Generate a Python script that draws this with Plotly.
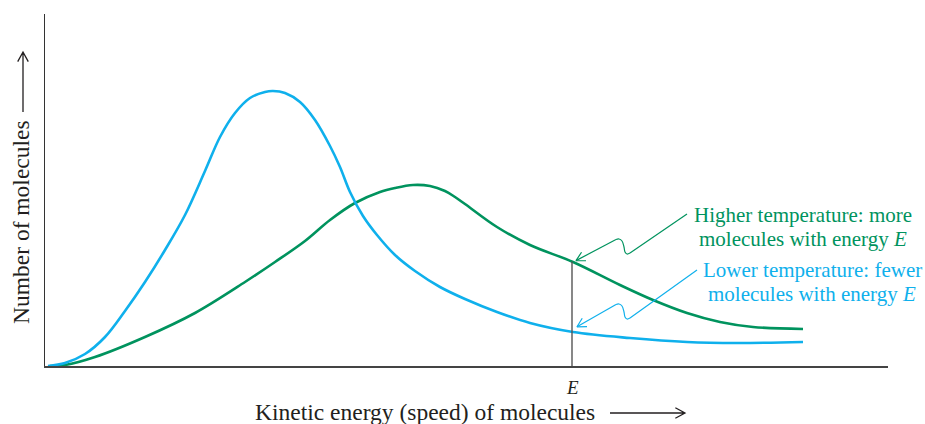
import plotly.graph_objects as go
import numpy as np

# lower temperature curve (kinetic energy, number of molecules)
energy_low = [3, 20, 40, 60, 80, 100, 120, 140, 160, 175, 190, 205, 220, 228, 240, 255,
              270, 285, 295, 305, 318, 332, 350, 370, 395, 420, 452, 485, 528, 585, 642, 692, 758]
count_low = [0, 3, 12, 29, 55, 84, 116, 151, 195, 229, 253, 268, 274, 275, 273, 264,
             246, 220, 199, 174, 150, 131, 111, 95, 79, 67, 54, 43, 34, 28, 24, 23, 24]

# higher temperature curve
energy_high = [5, 20, 50, 100, 150, 200, 230, 260, 285, 310, 335, 350, 368, 385, 400,
               410, 420, 452, 485, 528, 575, 608, 642, 675, 708, 758]
count_high = [0, 1, 9, 29, 53, 84, 104, 125, 146, 163, 174, 178, 181, 180, 175,
              169, 162, 139, 121, 104, 81, 66, 53, 44, 39, 37]

E = 527
X_MAX, Y_MAX = 843, 352

GREEN = "#00935e"
BLUE = "#0fb0ec"
INK = "#231f20"
FONT = "Liberation Serif"

high_label = ["Higher temperature: more", "molecules with energy <i>E</i>"]
low_label = ["Lower temperature: fewer", "molecules with energy <i>E</i>"]

L, T = 45, 14
R = 925 - L - X_MAX
B = 424 - T - Y_MAX


def px(x):
    return (x - L) / X_MAX


def py(y):
    return (T + Y_MAX - y) / Y_MAX


def head(tip, prev, length=10, spread=0.5):
    d = np.array(tip, float) - np.array(prev, float)
    d /= np.hypot(*d)
    pts = []
    for a in (spread, -spread):
        c, s = np.cos(a), np.sin(a)
        r = np.array([c * d[0] - s * d[1], s * d[0] + c * d[1]])
        pts.append(np.array(tip) - length * r)
    return [pts[0][0], tip[0], pts[1][0]], [pts[0][1], tip[1], pts[1][1]]


fig = go.Figure()

fig.add_trace(go.Scatter(x=energy_high, y=count_high, mode="lines", line_shape="spline",
                         line=dict(color=GREEN, width=2.6), hoverinfo="skip"))
fig.add_trace(go.Scatter(x=energy_low, y=count_low, mode="lines", line_shape="spline",
                         line=dict(color=BLUE, width=2.6), hoverinfo="skip"))

# vertical marker at energy E
y_e_high = float(np.interp(E, energy_high, count_high))
y_e_low = float(np.interp(E, energy_low, count_low))
fig.add_trace(go.Scatter(x=[E, E], y=[0, y_e_high], mode="lines",
                         line=dict(color="#555555", width=1.4), hoverinfo="skip"))

# callout arrows with a little squiggle
callouts = [
    (GREEN, (642, 152), [(585, 113), (582, 112), (580, 114), (579, 119), (577, 125), (574, 127), (571, 126.5)],
     (E + 4, y_e_high + 1)),
    (BLUE, (652, 96), [(585, 48), (582, 47), (580, 49), (579, 54), (577, 60), (574, 62), (571, 61.5)],
     (E + 5, y_e_low + 5)),
]
for color, tail, squig, tip in callouts:
    fig.add_trace(go.Scatter(x=[tail[0], squig[0][0]], y=[tail[1], squig[0][1]], mode="lines",
                             line=dict(color=color, width=1.2), hoverinfo="skip"))
    fig.add_trace(go.Scatter(x=[p[0] for p in squig], y=[p[1] for p in squig], mode="lines",
                             line_shape="spline", line=dict(color=color, width=1.2), hoverinfo="skip"))
    fig.add_trace(go.Scatter(x=[squig[-1][0], tip[0]], y=[squig[-1][1], tip[1]], mode="lines",
                             line=dict(color=color, width=1.2), hoverinfo="skip"))
    hx, hy = head(tip, squig[-1])
    fig.add_trace(go.Scatter(x=hx, y=hy, mode="lines",
                             line=dict(color=color, width=1.2), hoverinfo="skip"))

annotations = []
for i, line in enumerate(high_label):
    annotations.append(dict(x=757.5, y=151 - 24 * i, xref="x", yref="y", text=line,
                            showarrow=False, xanchor="center", yanchor="middle",
                            font=dict(family=FONT, size=21, color=GREEN)))
for i, line in enumerate(low_label):
    annotations.append(dict(x=767, y=96 - 24 * i, xref="x", yref="y", text=line,
                            showarrow=False, xanchor="center", yanchor="middle",
                            font=dict(family=FONT, size=21, color=BLUE)))

annotations.append(dict(x=E / X_MAX, y=py(387), xref="paper", yref="paper", text="<i>E</i>",
                        showarrow=False, xanchor="center", yanchor="middle",
                        font=dict(family=FONT, size=19, color=INK)))
annotations.append(dict(x=px(424.5), y=py(412), xref="paper", yref="paper",
                        text="Kinetic energy (speed) of molecules",
                        showarrow=False, xanchor="center", yanchor="middle",
                        font=dict(family=FONT, size=23.5, color=INK)))
annotations.append(dict(x=px(21), y=py(222), xref="paper", yref="paper",
                        text="Number of molecules", textangle=-90,
                        showarrow=False, xanchor="center", yanchor="middle",
                        font=dict(family=FONT, size=23.5, color=INK)))

# axis-title arrows (in pixel space, turned into paper coordinates)
shapes = []
for tail, tip in [((610, 413), (685, 413)), ((23, 112), (23, 52))]:
    hx, hy = head(tip, tail, length=11, spread=0.5)
    path = "M{},{} L{},{}".format(px(tail[0]), py(tail[1]), px(tip[0]), py(tip[1]))
    path += " M{},{} L{},{} L{},{}".format(px(hx[0]), py(hy[0]), px(hx[1]), py(hy[1]),
                                           px(hx[2]), py(hy[2]))
    shapes.append(dict(type="path", xref="paper", yref="paper", path=path,
                       line=dict(color=INK, width=1.3)))

fig.update_layout(
    width=925, height=424,
    margin=dict(l=L, r=R, t=T, b=B),
    plot_bgcolor="white", paper_bgcolor="white",
    showlegend=False,
    annotations=annotations,
    shapes=shapes,
)
fig.update_xaxes(range=[0, X_MAX], showline=True, linecolor="#444", linewidth=1.6,
                 showgrid=False, zeroline=False, showticklabels=False, ticks="")
fig.update_yaxes(range=[0, Y_MAX], showline=True, linecolor="#333", linewidth=1.4,
                 showgrid=False, zeroline=False, showticklabels=False, ticks="")

# drop the browser's default 8px body margin so the figure sits at the page corner
fig.write_html("out.html", config={"displayModeBar": False},
               post_script="document.body.style.margin = '0';")
